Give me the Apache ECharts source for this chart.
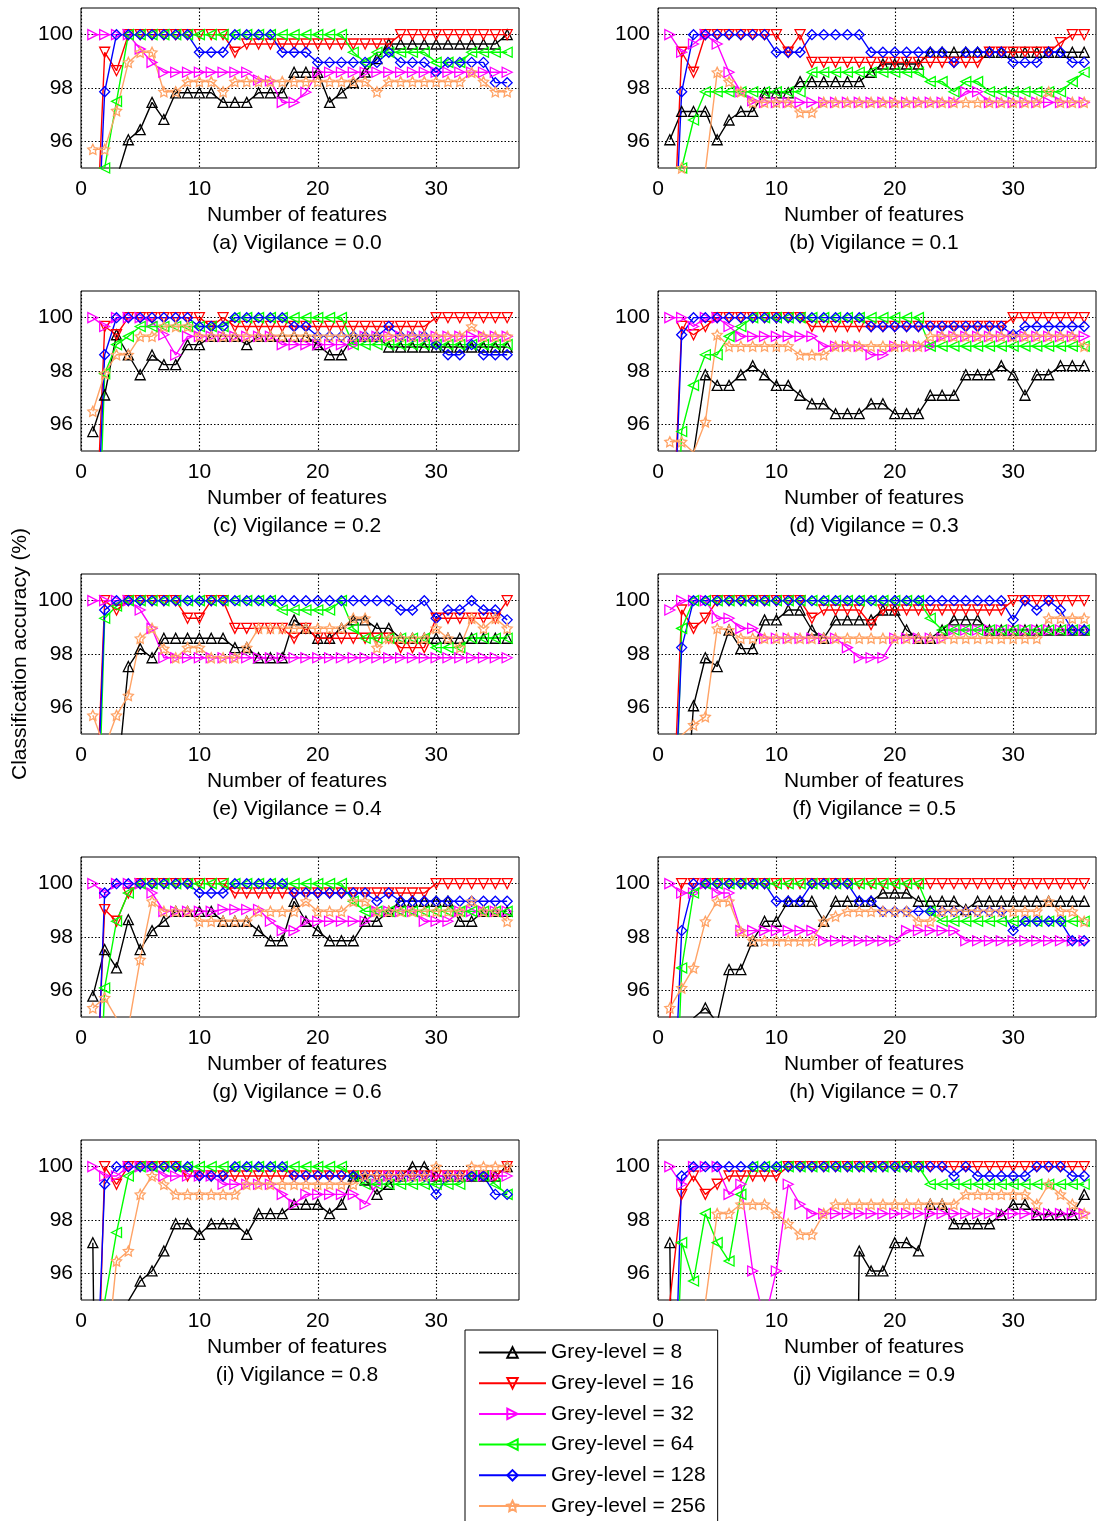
<!DOCTYPE html>
<html>
<head>
<meta charset="utf-8">
<script src="https://cdn.jsdelivr.net/npm/echarts@6/dist/echarts.min.js"></script>
<style>
html,body{margin:0;padding:0;background:#fff;}
#chart{width:1100px;height:1521px;}
</style>
</head>
<body>
<div id="chart"></div>
<script>
// ---------- categories / labels ----------
const features = [1,2,3,4,5,6,7,8,9,10,11,12,13,14,15,16,17,18,19,20,21,22,23,24,25,26,27,28,29,30,31,32,33,34,35,36];
const seriesNames = ['Grey-level = 8','Grey-level = 16','Grey-level = 32','Grey-level = 64','Grey-level = 128','Grey-level = 256'];
const panelLabels = ['(a) Vigilance = 0.0','(b) Vigilance = 0.1','(c) Vigilance = 0.2','(d) Vigilance = 0.3','(e) Vigilance = 0.4','(f) Vigilance = 0.5','(g) Vigilance = 0.6','(h) Vigilance = 0.7','(i) Vigilance = 0.8','(j) Vigilance = 0.9'];
const xTicks = [0,10,20,30];
const yTicks = [96,98,100];

// ---------- (a) vigilance 0.0 ----------
const a_g8   = [93,93.5,94.6,96.06,96.44,97.46,96.82,97.82,97.82,97.82,97.82,97.46,97.46,97.46,97.82,97.82,97.82,98.59,98.59,98.59,97.46,97.82,98.2,98.6,99.1,99.65,99.65,99.65,99.65,99.65,99.65,99.65,99.65,99.65,99.65,100];
const a_g16  = [89,99.34,98.65,100,100,100,100,100,100,100,100,100,99.34,99.65,99.65,99.65,99.65,99.65,99.65,99.65,99.65,99.65,99.65,99.65,99.65,99.65,100,100,100,100,100,100,100,100,100,100];
const a_g32  = [100,100,100,100,99.46,98.96,98.59,98.59,98.59,98.59,98.59,98.59,98.59,98.59,98.3,98.27,97.46,97.46,97.84,98.59,98.59,98.59,98.59,98.59,98.59,98.59,98.59,98.59,98.59,98.59,98.59,98.59,98.59,98.59,98.59,98.59];
const a_g64  = [85,95.0,97.5,100,100,100,100,100,100,100,100,100,100,100,100,100,100,100,100,100,100,100,99.34,98.96,99.34,99.34,99.34,99.34,99.34,98.96,98.96,98.96,99.34,99.34,99.34,99.34];
const a_g128 = [88,97.86,100,100,100,100,100,100,100,99.34,99.34,99.34,100,100,100,100,99.34,99.34,99.34,98.96,98.96,98.96,98.96,98.96,98.96,99.34,98.96,98.96,98.96,98.59,98.96,98.96,98.96,98.96,98.2,98.2];
const a_g256 = [95.7,95.7,97.15,98.96,99.34,99.34,97.86,97.86,98.24,98.24,98.24,97.86,98.24,98.24,98.24,98.24,98.24,98.24,98.24,98.24,98.24,98.24,98.24,98.24,97.86,98.24,98.24,98.24,98.24,98.24,98.24,98.24,98.59,98.24,97.86,97.86];

// ---------- (b) vigilance 0.1 ----------
const b_g8   = [96.06,97.12,97.12,97.12,96.06,96.8,97.12,97.12,97.82,97.82,97.82,98.24,98.24,98.24,98.24,98.24,98.24,98.59,98.9,98.9,98.9,98.9,99.34,99.34,99.34,99.34,99.34,99.34,99.34,99.34,99.34,99.34,99.34,99.34,99.34,99.34];
const b_g16  = [89,99.34,98.59,100,100,100,100,100,100,100,99.34,100,98.96,98.96,98.96,98.96,98.96,98.96,98.96,98.96,98.96,98.96,98.96,98.96,98.96,98.96,98.96,99.34,99.34,99.34,99.34,99.34,99.34,99.7,100,100];
const b_g32  = [100,99.34,99.65,100,99.65,98.59,97.86,97.52,97.46,97.46,97.46,97.46,97.46,97.46,97.46,97.46,97.46,97.46,97.46,97.46,97.46,97.46,97.46,97.46,97.46,97.86,97.86,97.46,97.46,97.46,97.46,97.46,97.46,97.46,97.46,97.46];
const b_g64  = [85,95.0,96.8,97.86,97.86,97.86,97.86,97.86,97.86,97.86,97.86,97.86,98.59,98.59,98.59,98.59,98.59,98.59,98.59,98.59,98.59,98.59,98.24,98.24,97.86,98.24,98.24,97.86,97.86,97.86,97.86,97.86,97.86,97.86,98.24,98.59];
const b_g128 = [88,97.86,100,100,100,100,100,100,100,99.34,99.34,99.34,100,100,100,100,100,99.34,99.34,99.34,99.34,99.34,99.34,99.34,98.96,99.34,99.34,99.34,99.34,98.96,98.96,98.96,99.34,99.34,98.96,98.96];
const b_g256 = [93,95.0,93,94.9,98.59,98.24,97.86,97.46,97.46,97.46,97.46,97.09,97.09,97.46,97.46,97.46,97.46,97.46,97.46,97.46,97.46,97.46,97.46,97.46,97.46,97.46,97.46,97.46,97.46,97.46,97.46,97.46,97.86,97.46,97.46,97.46];

// ---------- (c) vigilance 0.2 ----------
const c_g8   = [95.73,97.1,99.36,98.61,97.86,98.6,98.24,98.24,98.99,98.99,99.3,99.3,99.3,98.99,99.3,99.3,99.3,99.3,99.3,98.99,98.61,98.61,99.3,99.3,99.3,98.9,98.9,98.9,98.9,98.9,98.9,98.9,98.9,98.9,98.9,98.9];
const c_g16  = [89,99.67,99.36,100,100,100,100,100,100,100,99.67,100,99.67,99.67,99.67,99.67,99.67,99.67,99.67,99.67,99.67,99.67,99.67,99.67,99.67,99.67,99.67,99.67,99.67,100,100,100,100,100,100,100];
const c_g32  = [100,99.67,100,100,100,99.84,99.36,98.6,99.3,99.3,99.3,99.3,99.3,99.3,99.3,99.3,98.99,98.99,98.99,98.99,98.99,98.99,98.99,99.3,99.3,99.3,99.3,99.3,99.3,99.3,99.3,99.3,99.3,99.3,99.3,99.3];
const c_g64  = [85,97.9,98.99,99.3,99.67,99.67,99.67,99.67,99.67,99.67,99.67,99.67,100,100,100,100,100,100,100,100,100,100,98.99,98.99,98.99,98.99,98.99,98.99,98.99,98.99,98.99,98.99,98.99,98.99,98.99,98.99];
const c_g128 = [88,98.61,100,100,100,100,100,100,100,99.67,99.67,99.67,100,100,100,100,100,99.67,99.67,99.3,99.3,99.3,99.3,99.3,99.3,99.67,99.3,99.3,99.3,98.99,98.61,98.61,98.99,98.61,98.61,98.61];
const c_g256 = [96.49,97.9,98.61,98.61,99.3,99.3,99.67,99.67,99.67,99.3,99.3,99.3,99.3,99.3,99.3,99.3,99.3,99.3,99.3,99.3,99.3,99.3,99.3,99.3,99.3,99.3,99.3,99.3,99.3,99.3,99.3,99.3,99.67,99.3,99.3,99.3];

// ---------- (d) vigilance 0.3 ----------
const d_g8   = [88,90,94.9,97.86,97.46,97.46,97.86,98.2,97.86,97.46,97.46,97.09,96.77,96.77,96.4,96.4,96.4,96.77,96.77,96.4,96.4,96.4,97.09,97.09,97.09,97.86,97.86,97.86,98.2,97.86,97.09,97.86,97.86,98.2,98.2,98.2];
const d_g16  = [89,99.67,99.36,99.67,100,100,100,100,100,100,100,100,99.67,99.67,99.67,99.67,99.67,99.67,99.67,99.67,99.67,99.67,99.67,99.67,99.67,99.67,99.67,99.67,99.67,100,100,100,100,100,100,100];
const d_g32  = [100,100,99.67,100,100,99.67,99.3,99.3,99.3,99.3,99.3,99.3,99.3,98.93,98.93,98.93,98.93,98.61,98.61,98.93,98.93,98.93,98.93,99.3,99.3,99.3,99.3,99.3,99.3,99.3,99.3,99.3,99.3,99.3,99.3,99.3];
const d_g64  = [85,95.73,97.46,98.61,98.61,99.3,99.67,100,100,100,100,100,100,100,100,100,100,100,100,100,100,100,98.93,98.93,98.93,98.93,98.93,98.93,98.93,98.93,98.93,98.93,98.93,98.93,98.93,98.93];
const d_g128 = [88,99.36,100,100,100,100,100,100,100,100,100,100,100,100,100,100,100,99.67,99.67,99.67,99.67,99.67,99.67,99.67,99.67,99.67,99.67,99.67,99.67,99.36,99.67,99.67,99.67,99.67,99.67,99.67];
const d_g256 = [95.35,95.35,94.95,96.09,99.36,98.93,98.93,98.93,98.93,98.93,98.93,98.61,98.61,98.61,98.93,98.93,98.93,98.93,98.93,98.93,98.93,98.93,99.3,99.3,99.3,99.3,99.3,99.3,99.3,99.3,99.3,99.3,99.3,99.3,99.3,98.93];

// ---------- (e) vigilance 0.4 ----------
const e_g8   = [88,90,93,97.53,98.2,97.86,98.59,98.59,98.59,98.59,98.59,98.59,98.24,98.24,97.86,97.86,97.86,99.28,98.96,98.59,98.59,98.96,99.28,99.28,98.96,98.96,98.59,98.59,98.59,98.59,98.59,98.59,98.59,98.59,98.59,98.59];
const e_g16  = [89,100,99.65,100,100,100,100,100,99.34,99.34,100,100,98.96,98.96,98.96,98.96,98.96,98.59,98.96,98.59,98.59,98.59,98.59,98.59,98.59,98.59,98.24,98.24,98.24,99.34,99.34,99.34,99.34,99.34,99.34,100];
const e_g32  = [100,100,100,100,99.65,98.96,97.86,97.86,97.86,97.86,97.86,97.86,97.86,97.86,97.86,97.86,97.86,97.86,97.86,97.86,97.86,97.86,97.86,97.86,97.86,97.86,97.86,97.86,97.86,97.86,97.86,97.86,97.86,97.86,97.86,97.86];
const e_g64  = [85,99.34,99.8,100,100,100,100,100,100,100,100,100,100,100,100,100,99.65,99.65,99.65,99.65,99.65,100,98.96,98.59,98.59,98.59,98.59,98.59,98.59,98.24,98.24,98.24,98.59,98.59,98.59,98.59];
const e_g128 = [88,99.65,100,100,100,100,100,100,100,100,100,100,100,100,100,100,100,100,100,100,100,100,100,100,100,100,99.65,99.65,100,99.34,99.65,99.65,100,99.65,99.65,99.28];
const e_g256 = [95.7,94.5,95.7,96.44,98.59,98.96,98.2,97.86,98.24,98.24,97.86,97.86,97.86,98.24,98.96,98.96,98.96,98.96,98.96,98.96,98.96,98.96,99.34,99.34,98.24,98.59,98.59,98.59,98.59,98.96,98.59,98.24,99.34,98.96,99.34,98.96];

// ---------- (f) vigilance 0.5 ----------
const f_g8   = [88,90,96.06,97.86,97.53,98.9,98.2,98.2,99.28,99.28,99.65,99.65,98.9,98.59,99.28,99.28,99.28,99.28,99.65,99.65,98.9,98.59,98.59,98.9,99.28,99.28,99.28,98.9,98.9,98.9,98.9,98.9,98.9,98.9,98.9,98.9];
const f_g16  = [89,99.65,98.96,99.34,100,100,100,100,100,100,100,100,99.34,99.65,99.65,99.65,99.65,99.1,99.65,99.65,99.65,99.65,99.65,99.65,99.65,99.65,99.65,99.65,99.65,100,100,100,100,100,100,100];
const f_g32  = [99.65,100,100,100,99.34,99.34,98.96,98.96,98.59,98.59,98.59,98.59,98.59,98.59,98.59,98.24,97.86,97.86,97.86,98.59,98.59,98.59,98.59,98.59,98.9,98.9,98.9,98.9,98.9,98.9,98.9,98.9,98.9,98.9,98.9,98.9];
const f_g64  = [85,98.96,100,100,100,100,100,100,100,100,100,100,100,100,100,100,100,100,100,100,100,100,99.34,98.9,98.9,98.9,98.9,98.9,98.9,98.9,98.9,98.9,98.9,98.9,98.9,98.9];
const f_g128 = [88,98.24,100,100,100,100,100,100,100,100,100,100,100,100,100,100,100,100,100,100,100,100,100,100,100,100,100,100,100,99.28,100,99.65,100,99.65,98.9,98.9];
const f_g256 = [94.95,94.95,95.34,95.65,98.96,98.9,98.59,98.59,98.59,98.59,98.59,98.59,98.59,98.59,98.59,98.59,98.59,98.59,98.59,98.59,98.59,98.59,98.59,98.59,98.59,98.59,98.59,98.59,98.59,98.59,98.59,98.59,99.34,99.34,99.34,99.34];

// ---------- (g) vigilance 0.6 ----------
const g_g8   = [95.78,97.53,96.84,98.65,97.53,98.24,98.59,98.96,98.96,98.96,98.96,98.59,98.59,98.59,98.24,97.86,97.86,99.34,98.59,98.24,97.86,97.86,97.86,98.59,98.59,98.96,99.34,99.34,99.34,99.34,99.34,98.59,98.59,98.96,98.96,98.96];
const g_g16  = [89,99.03,98.59,99.65,100,100,100,100,100,100,100,100,99.65,99.65,99.65,99.65,99.65,99.65,99.65,99.65,99.65,99.65,99.65,99.65,99.65,99.65,99.65,99.65,99.65,100,100,100,100,100,100,100];
const g_g32  = [100,99.65,100,100,100,99.65,98.96,98.96,98.96,98.96,98.96,99.03,99.03,99.03,99.03,98.59,98.24,98.24,98.59,98.59,98.59,98.59,98.59,98.59,98.96,98.96,98.96,98.96,98.59,98.59,98.59,98.96,98.96,98.96,98.96,98.96];
const g_g64  = [85,96.09,98.59,99.65,100,100,100,100,100,100,100,100,100,100,100,100,100,100,100,100,100,100,99.34,98.96,98.96,98.96,98.96,98.96,98.96,98.96,98.96,98.96,98.96,98.96,98.96,98.96];
const g_g128 = [88,99.65,100,100,100,100,100,100,100,99.65,99.65,99.65,100,100,100,100,100,99.65,99.65,99.65,99.65,99.65,99.65,99.65,99.34,99.65,99.34,99.34,99.34,99.34,99.34,99.34,99.34,99.34,99.34,99.34];
const g_g256 = [95.34,95.72,94.95,94.6,97.15,99.34,98.96,98.96,98.96,98.59,98.59,98.59,98.59,98.59,98.96,98.96,98.96,98.96,99.34,98.96,98.96,98.96,99.34,99.34,98.96,98.96,98.96,98.96,98.96,98.96,98.96,98.96,99.34,98.96,98.96,98.59];

// ---------- (h) vigilance 0.7 ----------
const h_g8   = [85,88,94.96,95.34,94.8,96.78,96.78,97.86,98.59,98.59,99.34,99.34,99.34,98.59,99.34,99.34,99.34,99.34,99.65,99.65,99.65,99.34,99.34,99.34,99.34,99.03,99.34,99.34,99.34,99.34,99.34,99.34,99.34,99.34,99.34,99.34];
const h_g16  = [94.95,100,100,100,100,100,100,100,100,100,100,100,100,100,100,100,100,100,100,100,100,100,100,100,100,100,100,100,100,100,100,100,100,100,100,100];
const h_g32  = [100,99.65,99.65,100,99.65,99.65,98.24,98.24,98.24,98.24,98.24,98.24,98.24,97.86,97.86,97.86,97.86,97.86,97.86,97.86,98.24,98.24,98.24,98.24,98.24,97.86,97.86,97.86,97.86,97.86,97.86,97.86,97.86,97.86,97.86,97.86];
const h_g64  = [85,96.84,99.65,100,100,100,100,100,100,100,100,100,100,100,100,100,100,100,100,100,100,100,98.96,98.59,98.59,98.59,98.59,98.59,98.59,98.59,98.59,98.59,98.59,98.59,98.59,98.59];
const h_g128 = [88,98.24,100,100,100,100,100,100,100,99.34,99.34,99.34,100,100,100,100,99.34,99.34,98.96,98.96,98.96,98.96,98.96,98.96,98.96,98.96,98.96,98.96,98.96,98.24,98.59,98.59,98.59,98.59,97.86,97.86];
const h_g256 = [95.34,96.09,96.84,98.59,99.34,99.34,98.2,97.86,97.86,97.86,97.86,97.86,97.86,98.59,98.78,98.96,98.96,98.96,98.96,98.96,98.96,98.59,98.59,98.96,98.96,98.96,98.96,98.96,98.96,98.96,98.96,98.96,99.34,98.96,98.96,98.59];

// ---------- (i) vigilance 0.8 ----------
const i_g8   = [97.15,60,88,94.96,95.71,96.09,96.84,97.86,97.86,97.46,97.86,97.86,97.86,97.46,98.24,98.24,98.24,98.59,98.59,98.59,98.24,98.59,99.65,99.5,98.96,99.34,99.65,100,100,99.65,99.65,99.65,99.65,99.65,99.65,100];
const i_g16  = [85,100,99.34,100,100,100,100,100,99.65,99.65,99.65,99.65,99.65,99.65,99.65,99.65,99.65,99.65,99.65,99.65,99.65,99.65,99.65,99.65,99.65,99.65,99.65,99.65,99.65,99.65,99.65,99.65,99.65,99.65,99.65,100];
const i_g32  = [100,99.65,99.65,100,100,100,99.65,99.65,99.65,99.65,99.65,99.34,99.34,99.34,99.34,99.34,98.96,98.59,98.96,98.96,98.96,98.96,98.96,98.59,99.34,99.65,99.65,99.65,99.65,99.65,99.65,99.65,99.65,99.65,99.65,99.65];
const i_g64  = [85,94.95,97.53,99.65,100,100,100,100,100,100,100,100,100,100,100,100,100,100,100,100,100,100,99.65,99.34,99.34,99.34,99.34,99.34,99.34,99.34,99.34,99.34,99.65,99.65,99.34,98.96];
const i_g128 = [88,99.34,100,100,100,100,100,100,100,99.65,99.65,99.65,100,100,100,100,100,99.65,99.65,99.65,99.65,99.65,99.65,99.65,99.65,99.65,99.65,99.65,99.65,98.96,99.65,99.65,99.65,99.65,98.96,98.96];
const i_g256 = [88,92,96.46,96.84,98.96,99.65,99.34,98.96,98.96,98.96,98.96,98.96,98.96,99.34,99.34,99.34,99.34,99.34,99.34,99.34,99.34,99.34,99.34,99.65,99.65,99.65,99.65,99.65,99.65,100,99.65,99.65,100,100,100,100];

// ---------- (j) vigilance 0.9 ----------
const j_g8   = [97.15,60,60,60,60,60,60,60,60,60,60,60,60,60,60,60,96.84,96.09,96.09,97.15,97.15,96.84,98.59,98.59,97.86,97.86,97.86,97.86,98.2,98.59,98.59,98.2,98.2,98.2,98.2,98.96];
const j_g16  = [94.95,98.96,99.65,98.96,99.34,99.65,99.65,99.65,99.65,99.65,100,100,100,100,100,100,100,100,100,100,100,100,100,100,100,100,100,100,100,100,100,100,100,100,100,100];
const j_g32  = [100,99.34,100,100,100,98.96,99.34,96.09,94.2,96.09,99.34,98.59,98.24,98.24,98.24,98.24,98.24,98.24,98.24,98.24,98.24,98.24,98.24,98.24,98.24,98.24,98.24,98.24,98.24,98.24,98.24,98.24,98.24,98.24,98.24,98.24];
const j_g64  = [85,97.15,95.71,98.24,97.15,96.46,98.96,100,100,100,100,100,100,100,100,100,100,100,100,100,100,100,99.34,99.34,99.34,99.34,99.34,99.34,99.34,99.34,99.34,99.34,99.34,99.34,99.34,99.34];
const j_g128 = [85,99.65,100,100,100,100,100,100,100,100,100,100,100,100,100,100,100,100,100,100,100,100,100,100,99.65,100,99.65,99.65,99.65,99.65,99.65,100,100,100,99.65,99.65];
const j_g256 = [94.95,92,92,94.9,98.24,98.24,98.59,98.59,98.59,98.24,97.86,97.46,97.46,98.24,98.59,98.59,98.59,98.59,98.59,98.59,98.59,98.59,98.59,98.59,98.59,98.96,98.96,98.96,98.96,98.96,98.96,98.59,99.34,98.96,98.59,98.24];

const panelData = [
  [a_g8,a_g16,a_g32,a_g64,a_g128,a_g256],
  [b_g8,b_g16,b_g32,b_g64,b_g128,b_g256],
  [c_g8,c_g16,c_g32,c_g64,c_g128,c_g256],
  [d_g8,d_g16,d_g32,d_g64,d_g128,d_g256],
  [e_g8,e_g16,e_g32,e_g64,e_g128,e_g256],
  [f_g8,f_g16,f_g32,f_g64,f_g128,f_g256],
  [g_g8,g_g16,g_g32,g_g64,g_g128,g_g256],
  [h_g8,h_g16,h_g32,h_g64,h_g128,h_g256],
  [i_g8,i_g16,i_g32,i_g64,i_g128,i_g256],
  [j_g8,j_g16,j_g32,j_g64,j_g128,j_g256]
];

// ---------- styles ----------
const FONT = 'Liberation Sans, Arial, Helvetica, sans-serif';
const FS = 21;
const seriesColors = ['#000000','#ff0000','#ff00ff','#00ff00','#0000ff','#ffa366'];
const STAR = 'path://M0,-10L2.94,-4.05L9.51,-3.09L4.76,1.55L5.88,8.09L0,5L-5.88,8.09L-4.76,1.55L-9.51,-3.09L-2.94,-4.05Z';
const seriesSymbols = ['triangle','triangle','triangle','triangle','diamond',STAR];
const seriesRotate = [0,180,-90,90,0,0];
const colLeft = [81,658];
const rowTop = [8,291,574,857,1140];
const plotW = 438, plotH = 160;

const grids = [], xAxes = [], yAxes = [], series = [];
for (let p = 0; p < 10; p++) {
  const col = p % 2, row = Math.floor(p / 2);
  grids.push({left: colLeft[col], top: rowTop[row], width: plotW, height: plotH,
    show: true, borderColor: '#000', borderWidth: 1, backgroundColor: '#fff'});
  xAxes.push({
    gridIndex: p, type: 'value', min: 0, max: 37,
    axisLine: {show: false},
    axisTick: {show: false, customValues: xTicks},
    axisLabel: {customValues: xTicks, color: '#000', fontSize: FS, fontFamily: FONT, margin: 11},
    splitLine: {show: true, lineStyle: {color: '#000', width: 1.1, type: [1.5, 2]}},
    name: 'Number of features\n' + panelLabels[p],
    nameLocation: 'middle', nameGap: 32,
    nameTextStyle: {color: '#000', fontSize: FS, fontFamily: FONT, lineHeight: 28, padding: [0, 6, 0, 0]}
  });
  yAxes.push({
    gridIndex: p, type: 'value', min: 95, max: 101,
    axisLine: {show: false},
    axisTick: {show: false, customValues: yTicks},
    axisLabel: {customValues: yTicks, color: '#000', fontSize: FS, fontFamily: FONT, margin: 8},
    splitLine: {show: true, lineStyle: {color: '#000', width: 1.1, type: [1.5, 2]}},
    name: p === 4 ? 'Classification accuracy (%)' : '',
    nameLocation: 'middle', nameGap: 50,
    nameTextStyle: {color: '#000', fontSize: FS, fontFamily: FONT}
  });
  for (let s = 0; s < 6; s++) {
    const vals = panelData[p][s];
    series.push({
      type: 'line', name: seriesNames[s], xAxisIndex: p, yAxisIndex: p,
      data: features.map((f, k) => [f, vals[k]]),
      symbol: seriesSymbols[s], symbolRotate: seriesRotate[s], symbolSize: 10,
      showAllSymbol: true, clip: true,
      color: seriesColors[s],
      lineStyle: {color: seriesColors[s], width: 1.4},
      itemStyle: {color: 'rgba(255,255,255,0)', borderColor: seriesColors[s], borderWidth: 1.3},
      emphasis: {disabled: true},
      silent: true
    });
  }
}

const chart = echarts.init(document.getElementById('chart'), null, {renderer: 'canvas'});
chart.setOption({
  animation: false,
  backgroundColor: '#fff',
  grid: grids, xAxis: xAxes, yAxis: yAxes, series: series,
  legend: {
    data: seriesNames, orient: 'vertical', left: 465, top: 1330,
    height: 240,
    itemWidth: 67, itemHeight: 13, itemGap: 9.7,
    padding: [12, 12, 20, 13],
    borderColor: '#000', borderWidth: 1, backgroundColor: '#fff',
    selectedMode: false,
    textStyle: {color: '#000', fontSize: FS, fontFamily: FONT, lineHeight: 21}
  }
});
</script>
</body>
</html>
